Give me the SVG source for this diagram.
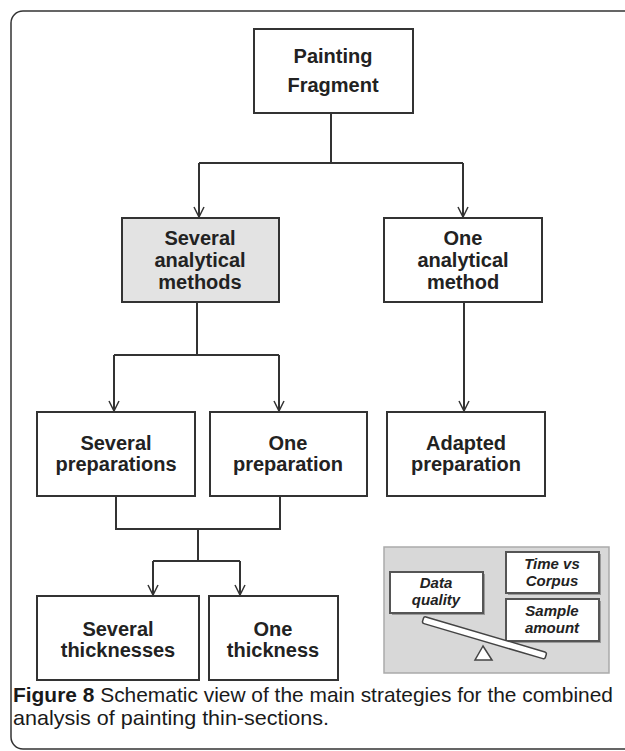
<svg xmlns="http://www.w3.org/2000/svg" width="625" height="751" viewBox="0 0 625 751">
  <defs>
    <marker id="arr" viewBox="-11 -6 12 12" markerWidth="12" markerHeight="12" refX="0" refY="0" orient="auto" markerUnits="userSpaceOnUse">
      <path d="M-10,-5 L0,0 L-10,5" fill="none" stroke="#333" stroke-width="1.5"/>
    </marker>
  </defs>
  <style>
    .box { fill: #ffffff; stroke: #333333; stroke-width: 2; }
    .shade { fill: #e3e3e3; stroke: #333333; stroke-width: 2; }
    .t { font-family: "Liberation Sans", Arial, sans-serif; font-weight: bold; font-size: 20px; fill: #222222; text-anchor: middle; }
    .pb { fill: #ffffff; stroke: #555555; stroke-width: 2; }
    .ps { fill: #9a9a9a; }
    .pt { font-family: "Liberation Sans", Arial, sans-serif; font-weight: bold; font-style: italic; font-size: 15px; fill: #222222; text-anchor: middle; }
    .c { fill: none; stroke: #333333; stroke-width: 2; }
    .cap { font-family: "Liberation Sans", Arial, sans-serif; font-size: 21px; fill: #1a1a1a; }
  </style>

  <rect x="11" y="11" width="660" height="738" rx="12" fill="none" stroke="#333" stroke-width="1.5"/>

  <g id="connectors">
    <line class="c" x1="331" y1="113" x2="331" y2="163"/>
    <line class="c" x1="199" y1="163" x2="463" y2="163"/>
    <line class="c" x1="199" y1="163" x2="199" y2="217" marker-end="url(#arr)"/>
    <line class="c" x1="463" y1="163" x2="463" y2="217" marker-end="url(#arr)"/>
    <line class="c" x1="197" y1="302" x2="197" y2="355"/>
    <line class="c" x1="114" y1="355" x2="279" y2="355"/>
    <line class="c" x1="114" y1="355" x2="114" y2="411" marker-end="url(#arr)"/>
    <line class="c" x1="279" y1="355" x2="279" y2="411" marker-end="url(#arr)"/>
    <line class="c" x1="464" y1="302" x2="464" y2="411" marker-end="url(#arr)"/>
    <path class="c" d="M116,496 V529 H280 V496"/>
    <line class="c" x1="198" y1="529" x2="198" y2="561"/>
    <line class="c" x1="153" y1="561" x2="240" y2="561"/>
    <line class="c" x1="153" y1="561" x2="153" y2="595" marker-end="url(#arr)"/>
    <line class="c" x1="240" y1="561" x2="240" y2="595" marker-end="url(#arr)"/>
  </g>

  <g id="painting-fragment">
    <rect class="box" x="254" y="29" width="159" height="84"/>
    <text class="t" x="333" y="63">Painting</text>
    <text class="t" x="333" y="92">Fragment</text>
  </g>

  <g id="several-methods">
    <rect class="shade" x="122" y="218" width="157" height="84"/>
    <text class="t" x="200" y="245">Several</text>
    <text class="t" x="200" y="267">analytical</text>
    <text class="t" x="200" y="289">methods</text>
  </g>

  <g id="one-method">
    <rect class="box" x="384" y="218" width="158" height="84"/>
    <text class="t" x="463" y="245">One</text>
    <text class="t" x="463" y="267">analytical</text>
    <text class="t" x="463" y="289">method</text>
  </g>

  <g id="several-preparations">
    <rect class="box" x="37" y="412" width="158" height="84"/>
    <text class="t" x="116" y="450">Several</text>
    <text class="t" x="116" y="471">preparations</text>
  </g>

  <g id="one-preparation">
    <rect class="box" x="210" y="412" width="157" height="84"/>
    <text class="t" x="288" y="450">One</text>
    <text class="t" x="288" y="471">preparation</text>
  </g>

  <g id="adapted-preparation">
    <rect class="box" x="387" y="412" width="158" height="84"/>
    <text class="t" x="466" y="450">Adapted</text>
    <text class="t" x="466" y="471">preparation</text>
  </g>

  <g id="several-thicknesses">
    <rect class="box" x="37" y="596" width="162" height="84"/>
    <text class="t" x="118" y="636">Several</text>
    <text class="t" x="118" y="657">thicknesses</text>
  </g>

  <g id="one-thickness">
    <rect class="box" x="209" y="596" width="129" height="84"/>
    <text class="t" x="273" y="636">One</text>
    <text class="t" x="273" y="657">thickness</text>
  </g>

  <g id="balance-panel">
    <rect x="384" y="547" width="225" height="126" fill="#d8d8d8" stroke="#aaaaaa" stroke-width="1.5"/>
    <rect class="ps" x="392" y="574" width="93" height="41"/>
    <rect class="pb" x="390" y="572" width="93" height="41"/>
    <text class="pt" x="436" y="588">Data</text>
    <text class="pt" x="436" y="605">quality</text>
    <rect class="ps" x="508" y="554" width="93" height="41"/>
    <rect class="pb" x="506" y="552" width="93" height="41"/>
    <text class="pt" x="552" y="569">Time vs</text>
    <text class="pt" x="552" y="586">Corpus</text>
    <rect class="ps" x="508" y="601" width="93" height="42"/>
    <rect class="pb" x="506" y="599" width="93" height="42"/>
    <text class="pt" x="552" y="616">Sample</text>
    <text class="pt" x="552" y="633">amount</text>
    <rect x="423" y="616.5" width="128" height="7" rx="2" fill="#ffffff" stroke="#444444" stroke-width="1.5" transform="rotate(16.4 424 620)"/>
    <polygon points="483,646 475,660 492,660" fill="#ffffff" stroke="#444444" stroke-width="1.5"/>
  </g>

  <g id="caption">
    <text class="cap" x="13" y="702" textLength="600" lengthAdjust="spacingAndGlyphs"><tspan font-weight="bold">Figure 8</tspan> Schematic view of the main strategies for the combined</text>
    <text class="cap" x="13" y="725" textLength="316" lengthAdjust="spacingAndGlyphs">analysis of painting thin-sections.</text>
  </g>
</svg>
